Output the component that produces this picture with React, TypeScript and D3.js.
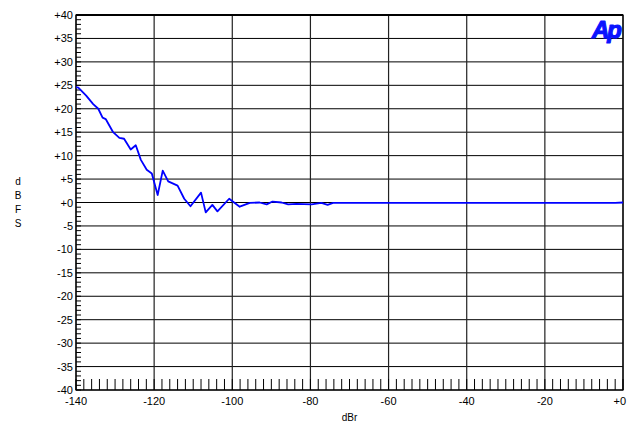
import * as d3 from "d3";
import { useEffect, useRef } from "react";

// measured curve: level (dBr) vs output (dBFS)
const levelDbr = [
  -140, -139.4, -137.4, -135.6, -134.3, -133.2, -132.4, -130.5, -128.9, -127.7,
  -126.0, -124.7, -123.4, -121.9, -120.6, -119.1, -117.8, -116.4, -114.0,
  -112.3, -110.7, -108.0, -106.8, -105.1, -103.8, -100.8, -98.1, -95.5, -93.0,
  -91.2, -89.7, -87.4, -85.7, -83.6, -79.7, -77.2, -75.6, -74.2, -70, -60,
  -50, -40, -30, -20, -10, -2, 0,
];
const outputDbfs = [
  24.6, 24.5, 22.8, 21.0, 20.0, 18.1, 17.8, 15.0, 13.8, 13.6, 11.3, 12.2, 9.1,
  7.0, 6.2, 1.6, 6.8, 4.5, 3.6, 0.8, -0.8, 2.1, -2.1, -0.5, -1.9, 0.8, -0.9,
  -0.1, 0.0, -0.4, 0.2, 0.0, -0.4, -0.3, -0.4, -0.1, -0.5, -0.1, -0.1, -0.1,
  -0.1, -0.1, -0.1, -0.1, -0.1, -0.1, 0.0,
];

const xTicks = [-140, -120, -100, -80, -60, -40, -20, 0];
const yTicks = [40, 35, 30, 25, 20, 15, 10, 5, 0, -5, -10, -15, -20, -25, -30, -35, -40];

const fmt = (v: number) => (v >= 0 ? `+${v}` : `${v}`);

const App = () => {
  const svgRef = useRef<SVGSVGElement | null>(null);

  useEffect(() => {
    const width = 627;
    const height = 424;
    const left = 76;
    const right = 623;
    const top = 15;
    const bottom = 390;
    const font = "'Liberation Sans', Arial, Helvetica, sans-serif";

    const svg = d3.select(svgRef.current);
    svg.selectAll("*").remove();
    svg.attr("width", width).attr("height", height);

    svg.append("rect").attr("width", width).attr("height", height).attr("fill", "#fff");

    const x = d3.scaleLinear().domain([-140, 0]).range([left, right]);
    const y = d3.scaleLinear().domain([-40, 40]).range([bottom, top]);

    // horizontal grid
    svg
      .append("g")
      .selectAll("line")
      .data(yTicks)
      .enter()
      .append("line")
      .attr("x1", left)
      .attr("x2", right)
      .attr("y1", (d) => y(d))
      .attr("y2", (d) => y(d))
      .attr("stroke", "#000")
      .attr("stroke-width", 1);

    // vertical grid
    svg
      .append("g")
      .selectAll("line")
      .data(xTicks)
      .enter()
      .append("line")
      .attr("x1", (d) => x(d))
      .attr("x2", (d) => x(d))
      .attr("y1", top)
      .attr("y2", bottom)
      .attr("stroke", "#222")
      .attr("stroke-width", 1.2);

    // minor ticks on left (every 1 dB)
    svg
      .append("g")
      .selectAll("line")
      .data(d3.range(-40, 41, 1))
      .enter()
      .append("line")
      .attr("x1", left)
      .attr("x2", left + 5)
      .attr("y1", (d) => y(d))
      .attr("y2", (d) => y(d))
      .attr("stroke", "#000")
      .attr("stroke-width", 1);

    // minor ticks on bottom (every 2 dB)
    svg
      .append("g")
      .selectAll("line")
      .data(d3.range(-140, 1, 2))
      .enter()
      .append("line")
      .attr("x1", (d) => x(d))
      .attr("x2", (d) => x(d))
      .attr("y1", bottom - 11)
      .attr("y2", bottom)
      .attr("stroke", "#000")
      .attr("stroke-width", 1);

    // frame
    svg
      .append("rect")
      .attr("x", left)
      .attr("y", top)
      .attr("width", right - left)
      .attr("height", bottom - top)
      .attr("fill", "none")
      .attr("stroke", "#000")
      .attr("stroke-width", 1.2);
    svg
      .append("line")
      .attr("x1", left)
      .attr("x2", right)
      .attr("y1", top)
      .attr("y2", top)
      .attr("stroke", "#000")
      .attr("stroke-width", 2);

    // y tick labels
    svg
      .append("g")
      .selectAll("text")
      .data(yTicks)
      .enter()
      .append("text")
      .attr("x", left - 3)
      .attr("y", (d) => y(d) + 4)
      .attr("text-anchor", "end")
      .attr("font-family", font)
      .attr("font-size", 11)
      .text((d) => fmt(d));

    // x tick labels
    svg
      .append("g")
      .selectAll("text")
      .data(xTicks)
      .enter()
      .append("text")
      .attr("x", (d) => x(d))
      .attr("y", bottom + 15)
      .attr("text-anchor", (d) => (d === 0 ? "end" : "middle"))
      .attr("dx", (d) => (d === 0 ? 3 : 0))
      .attr("font-family", font)
      .attr("font-size", 11)
      .text((d) => fmt(d));

    // axis titles
    svg
      .append("text")
      .attr("x", x(-70))
      .attr("y", 421)
      .attr("text-anchor", "middle")
      .attr("font-family", font)
      .attr("font-size", 10)
      .text("dBr");

    svg
      .append("g")
      .selectAll("text")
      .data(["d", "B", "F", "S"])
      .enter()
      .append("text")
      .attr("x", 18)
      .attr("y", (d, i) => 185 + i * 14)
      .attr("text-anchor", "middle")
      .attr("font-family", font)
      .attr("font-size", 10)
      .text((d) => d);

    // curve
    const pts = levelDbr.map((v, i) => [v, outputDbfs[i]] as [number, number]);
    const line = d3
      .line<[number, number]>()
      .x((d) => x(d[0]))
      .y((d) => y(d[1]));
    svg
      .append("path")
      .datum(pts)
      .attr("d", line)
      .attr("fill", "none")
      .attr("stroke", "#0000ff")
      .attr("stroke-width", 1.8)
      .attr("stroke-linejoin", "round");

    // Ap logo
    svg
      .append("text")
      .attr("x", 606)
      .attr("y", 38)
      .attr("text-anchor", "middle")
      .attr("font-family", font)
      .attr("font-size", 24)
      .attr("font-weight", "bold")
      .attr("font-style", "italic")
      .attr("letter-spacing", -2)
      .attr("fill", "#0a14ff")
      .attr("stroke", "#0a14ff")
      .attr("stroke-width", 1.2)
      .attr("stroke-linejoin", "round")
      .text("Ap");
  }, []);

  return (
    <svg
      ref={svgRef}
      style={{ position: "absolute", left: 0, top: 0, display: "block" }}
    ></svg>
  );
};

export default App;
